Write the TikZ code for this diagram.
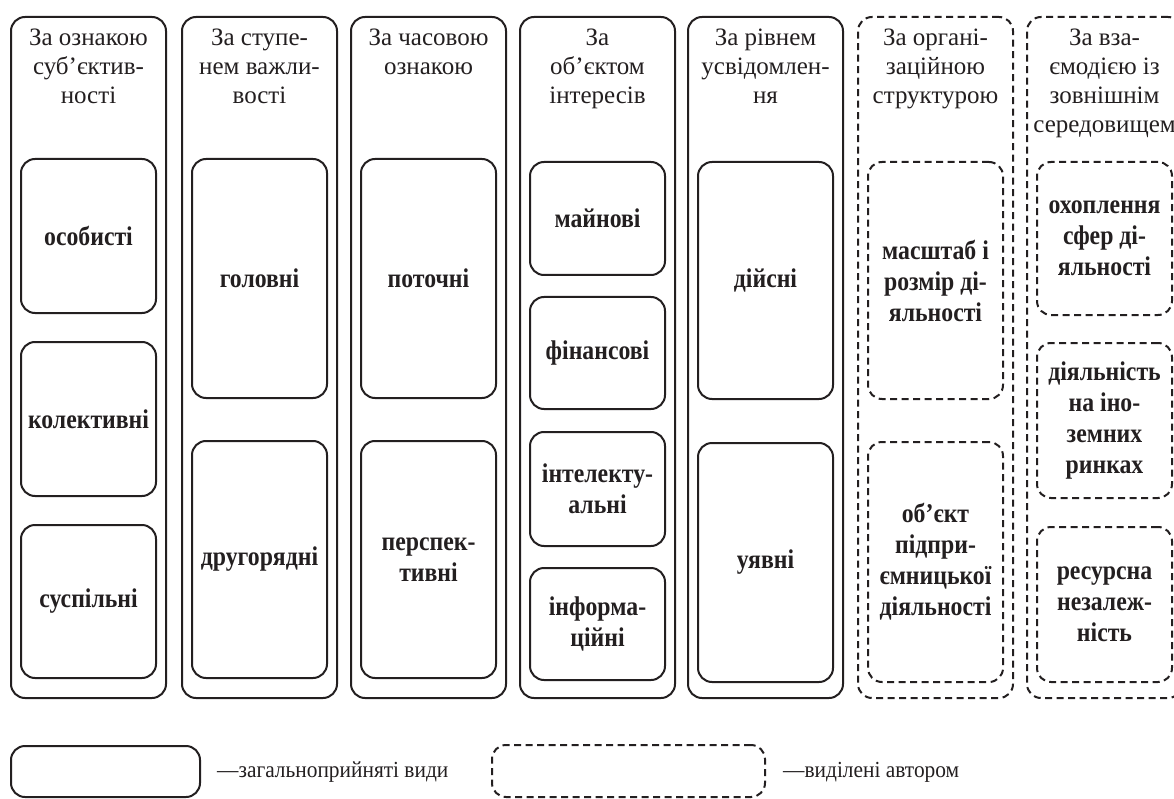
\documentclass[tikz,border=0pt]{standalone}
\usepackage{fontspec}
\setmainfont{Liberation Serif}
\newfontfamily\boldcond[FakeStretch=0.88]{Liberation Serif}
\newfontfamily\legcond[FakeStretch=0.93]{Liberation Serif}
\definecolor{ink}{HTML}{231F20}
\begin{document}
\begin{tikzpicture}[x=1pt,y=-1pt,
  col/.style={draw=ink, line width=2pt, rounded corners=14pt, minimum width=155pt, minimum height=681pt, inner sep=0pt},
  item/.style={draw=ink, line width=2pt, rounded corners=14pt, minimum width=135pt, inner sep=0pt, align=center, font=\boldcond\fontsize{27}{31}\selectfont\bfseries, text=ink},
  dsh/.style={dash pattern=on 7pt off 4.5pt},
  head/.style={anchor=north, align=center, font=\fontsize{25}{29}\selectfont, text=ink, inner sep=0pt},
  legtext/.style={anchor=base west, font=\legcond\fontsize{23}{27}\selectfont, text=ink, inner sep=0pt}]
\useasboundingbox (0,0) rectangle (1174,799);
\fill[white] (0,0) rectangle (1174,799);
\clip (0,0) rectangle (1174,799);

% outer columns
\node[col] (c1) at (88.5,357.5) {};
\node[col] (c2) at (259.5,357.5) {};
\node[col] (c3) at (428.5,357.5) {};
\node[col] (c4) at (597.5,357.5) {};
\node[col] (c5) at (765.5,357.5) {};
\node[col,dsh] (c6) at (935.5,357.5) {};
\node[col,dsh] (c7) at (1104.5,357.5) {};

% headings
\node[head] (h1) at (88.5,28.5) {За ознакою\\суб’єктив-\\ності};
\node[head] (h2) at (259.5,28.5) {За ступе-\\нем важли-\\вості};
\node[head] (h3) at (428.5,28.5) {За часовою\\ознакою};
\node[head] (h4) at (597.5,28.5) {За\\об’єктом\\інтересів};
\node[head] (h5) at (765.5,28.5) {За рівнем\\усвідомлен-\\ня};
\node[head] (h6) at (935.5,28.5) {За органі-\\заційною\\структурою};
\node[head] (h7) at (1104.5,28.5) {За вза-\\ємодією із\\зовнішнім\\середовищем};

% column 1
\node[item,minimum height=154pt] (i11) at (88.5,236) {особисті};
\node[item,minimum height=154pt] (i12) at (88.5,419) {колективні};
\node[item,minimum height=153pt] (i13) at (88.5,601.5) {суспільні};
% column 2
\node[item,minimum height=239pt] (i21) at (259.5,278.5) {головні};
\node[item,minimum height=237pt] (i22) at (259.5,559.5) {другорядні};
% column 3
\node[item,minimum height=239pt] (i31) at (428.5,278.5) {поточні};
\node[item,minimum height=237pt] (i32) at (428.5,559.5) {перспек-\\тивні};
% column 4
\node[item,minimum height=113pt] (i41) at (597.5,218.5) {майнові};
\node[item,minimum height=112pt] (i42) at (597.5,353) {фінансові};
\node[item,minimum height=114pt] (i43) at (597.5,489) {інтелекту-\\альні};
\node[item,minimum height=112pt] (i44) at (597.5,624) {інформа-\\ційні};
% column 5
\node[item,minimum height=237pt] (i51) at (765.5,280.5) {дійсні};
\node[item,minimum height=239pt] (i52) at (765.5,562.5) {уявні};
% column 6
\node[item,dsh,minimum height=237pt] (i61) at (935.5,280.5) {масштаб і\\розмір ді-\\яльності};
\node[item,dsh,minimum height=240pt] (i62) at (935.5,562) {об’єкт\\підпри-\\ємницької\\діяльності};
% column 7
\node[item,dsh,minimum height=153pt] (i71) at (1104.5,238.5) {охоплення\\сфер ді-\\яльності};
\node[item,dsh,minimum height=155pt] (i72) at (1104.5,420.5) {діяльність\\на іно-\\земних\\ринках};
\node[item,dsh,minimum height=155pt] (i73) at (1104.5,604.5) {ресурсна\\незалеж-\\ність};

% legend
\node[item,minimum width=189pt,minimum height=51pt] (l1) at (105.5,771.5) {};
\node[legtext] (t1) at (217,777) {—загальноприйняті види};
\node[item,dsh,minimum width=273pt,minimum height=52pt] (l2) at (628.5,771) {};
\node[legtext] (t2) at (783,777) {—виділені автором};
\end{tikzpicture}
\end{document}
